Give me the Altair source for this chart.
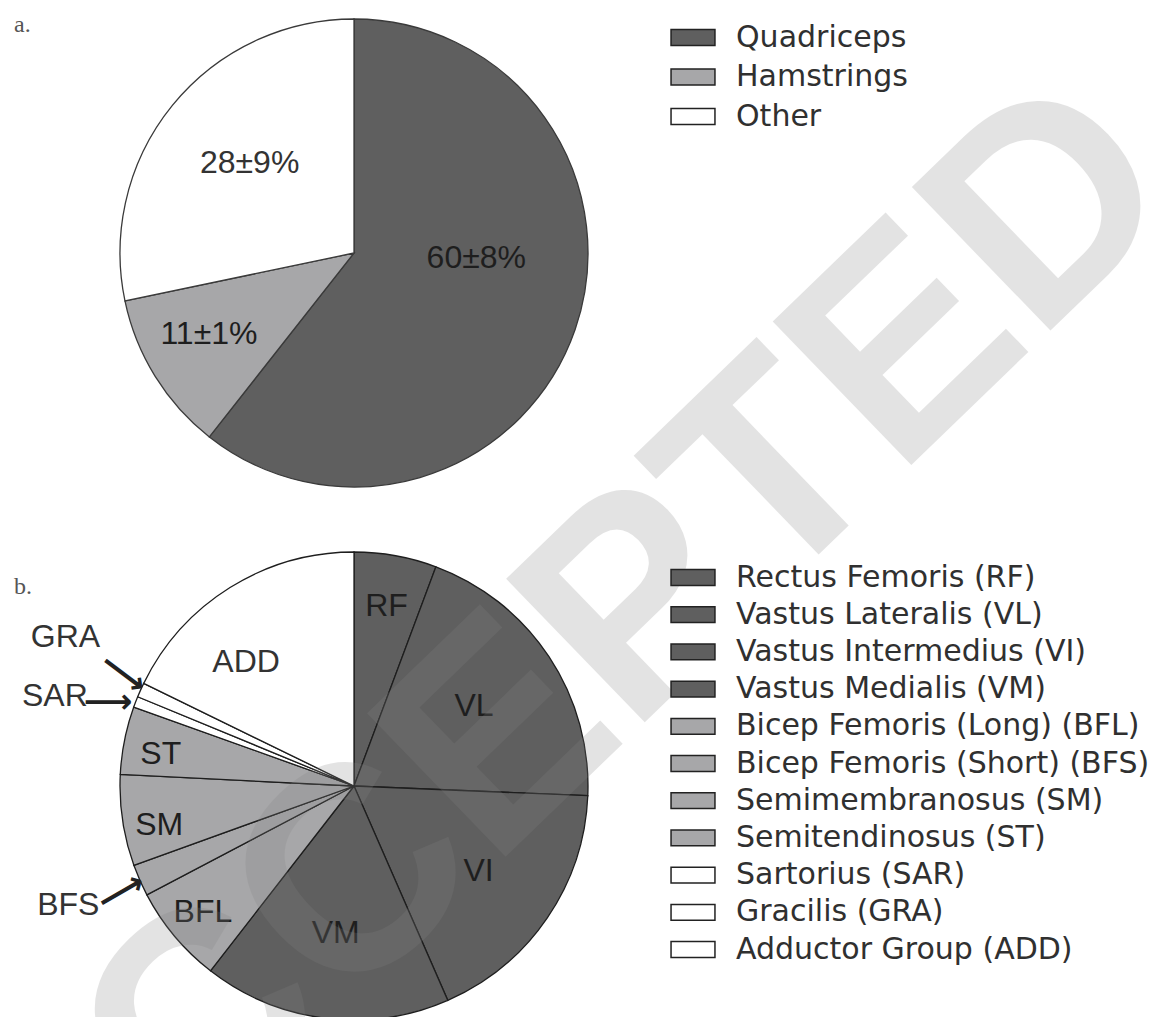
import altair as alt
import pandas as pd

# ---- panel a: muscle groups ----
groups = ["Quadriceps", "Hamstrings", "Other"]
group_share = [60, 11, 28]
group_text = ["60±8%", "11±1%", "28±9%"]
group_colors = ["#5f5f5f", "#a7a7a9", "#ffffff"]

# ---- panel b: individual muscles ----
muscle_names = [
    "Rectus Femoris (RF)",
    "Vastus Lateralis (VL)",
    "Vastus Intermedius (VI)",
    "Vastus Medialis (VM)",
    "Bicep Femoris (Long) (BFL)",
    "Bicep Femoris (Short) (BFS)",
    "Semimembranosus (SM)",
    "Semitendinosus (ST)",
    "Sartorius (SAR)",
    "Gracilis (GRA)",
    "Adductor Group (ADD)",
]
muscle_abbr = ["RF", "VL", "VI", "VM", "BFL", "BFS", "SM", "ST", "SAR", "GRA", "ADD"]
muscle_share = [5.7, 20.0, 17.8, 17.1, 6.8, 2.2, 6.3, 4.7, 0.75, 1.0, 17.8]
muscle_colors = ["#5f5f5f"] * 4 + ["#a7a7a9"] * 4 + ["#ffffff"] * 3

watermark = "ACCEPTED"

W, H = 1156, 1017
PIE_R = 234
CENTER_A = (354, 253)
CENTER_B = (354, 786)
LABEL_FONT = "Liberation Sans"
LEGEND_FONT = "DejaVu Sans"
RECT = "M-1.22,-0.44H1.22V0.44H-1.22Z"

df_a = pd.DataFrame({"part": groups, "share": group_share,
                     "label": group_text, "idx": list(range(len(groups)))})
df_b = pd.DataFrame({"name": muscle_names, "abbr": muscle_abbr,
                     "share": muscle_share, "idx": list(range(len(muscle_abbr)))})


def legend(x, y, pad):
    return alt.Legend(
        orient="none", legendX=x, legendY=y, title=None, padding=0,
        symbolType=RECT, symbolSize=1296, symbolStrokeColor="#222",
        symbolStrokeWidth=1.5, symbolOpacity=1,
        labelFont=LEGEND_FONT, labelFontSize=30, labelColor="#303030",
        labelOffset=24, rowPadding=pad, labelLimit=600,
    )


def pie_base(df, center):
    return alt.Chart(df).encode(
        theta=alt.Theta("share:Q", stack="normalize"),
        order=alt.Order("idx:Q"),
        x=alt.value(center[0]),
        y=alt.value(center[1]),
    )


def pie_label(base, key, value, text_field, r, dx=0, dy=0, color="#1e1e1e",
              size=32, angle=0, font=LABEL_FONT):
    return base.mark_text(
        radius=r, dx=dx, dy=dy, font=font, fontSize=size, fill=color,
        angle=angle, align="center", baseline="middle",
    ).encode(
        text=alt.condition(alt.datum[key] == value, text_field, alt.value(""))
    )


# ---- pie a ----
base_a = pie_base(df_a, CENTER_A)
arcs_a = base_a.mark_arc(outerRadius=PIE_R, stroke="#3a3a3a", strokeWidth=1.3).encode(
    color=alt.Color("part:N", sort=groups,
                    scale=alt.Scale(domain=groups, range=group_colors),
                    legend=legend(674, 18.5, 5.5)),
)
labels_a = [
    pie_label(base_a, "part", "Quadriceps", "label:N", 122, dx=7, dy=-35),
    pie_label(base_a, "part", "Hamstrings", "label:N", 166, dx=-4, dy=-7),
    pie_label(base_a, "part", "Other", "label:N", 137, dx=2, dy=-4, color="#333333"),
]
pie_a = alt.layer(arcs_a, *labels_a)

# ---- pie b ----
base_b = pie_base(df_b, CENTER_B)
arcs_b = base_b.mark_arc(outerRadius=PIE_R, stroke="#1e1e1e", strokeWidth=1.3).encode(
    color=alt.Color("name:N", sort=muscle_names,
                    scale=alt.Scale(domain=muscle_names, range=muscle_colors),
                    legend=legend(674, 558.5, 3.2)),
)
inside = [
    ("RF", 183, 0, 0), ("VL", 144, 0, 0), ("VI", 151, 0, 0), ("VM", 148, 0, 0),
    ("BFL", 197, 0, 0), ("SM", 197, 0, 10), ("ST", 197, 0, 7), ("ADD", 164, -21, 15),
]
labels_b = [
    pie_label(base_b, "abbr", a, "abbr:N", r, dx, dy,
              color="#333333" if a == "ADD" else "#1e1e1e")
    for a, r, dx, dy in inside
]
# the smallest slices are named outside the pie, with arrows
outside = [
    ("GRA", 324, 7, -16, 262, 4, -8, 37),
    ("SAR", 312, -8, 22, 257, -6, 9, 0),
    ("BFS", 310, -2, -6, 257, 1, 4, 330),
]
callouts = []
for a, r, dx, dy, ar, adx, ady, ang in outside:
    callouts.append(pie_label(base_b, "abbr", a, "abbr:N", r, dx, dy, color="#333333"))
    callouts.append(
        base_b.mark_text(
            radius=ar, dx=adx, dy=ady, font="DejaVu Sans", fontSize=34,
            fontWeight="bold", fill="#222222", angle=ang,
            align="center", baseline="middle",
        ).encode(text=alt.condition(alt.datum.abbr == a, alt.value("⟶"), alt.value("")))
    )
pie_b = alt.layer(arcs_b, *labels_b, *callouts)

# ---- panel tags and stamp ----
tags = alt.Chart(pd.DataFrame({"t": ["a.", "b."], "ty": [25, 587]})).mark_text(
    font="Liberation Serif", fontSize=24, fill="#555555", align="left", baseline="middle"
).encode(x=alt.value(14), y=alt.Y("ty:Q", scale=None), text="t:N")

stamp = alt.Chart(pd.DataFrame({"t": [watermark]})).mark_text(
    font="Liberation Sans", fontWeight="bold", fontSize=290, angle=316,
    fill="#838383", opacity=0.22, align="center", baseline="middle",
).encode(x=alt.value(553), y=alt.value(690), text="t:N")

chart = (
    alt.layer(pie_a, pie_b, tags, stamp)
    .resolve_scale(color="independent")
    .resolve_legend(color="independent")
    .configure_view(stroke=None)
    .properties(width=W, height=H, padding=0, background="white",
                autosize=alt.AutoSizeParams(type="none"))
)

chart.save("out.html", embed_options={"renderer": "svg", "actions": False})
